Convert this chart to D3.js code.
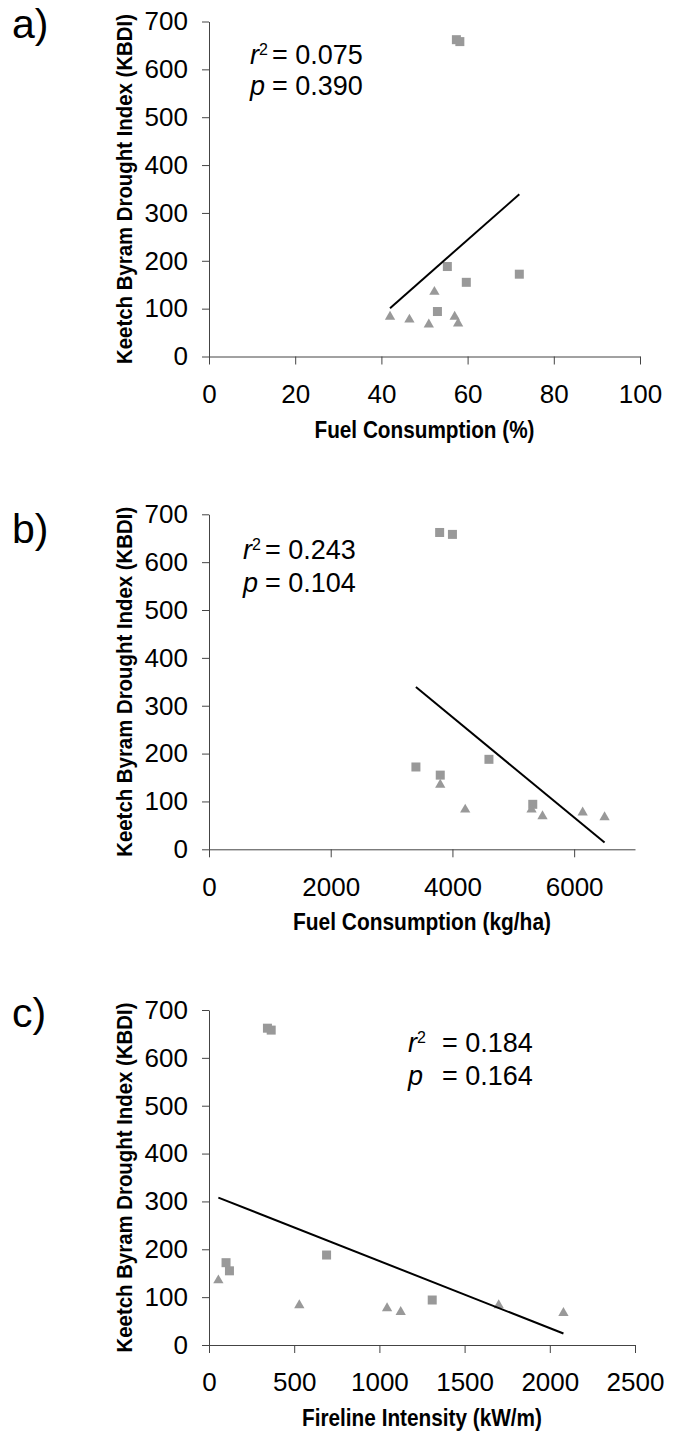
<!DOCTYPE html>
<html>
<head>
<meta charset="utf-8">
<script src="https://cdnjs.cloudflare.com/ajax/libs/d3/7.8.5/d3.min.js"></script>
<style>
    body { margin: 0; background: #fff; }
    svg { display: block; }
    .axis .tick text { font-family: "Liberation Sans", Arial, sans-serif; font-size: 26px; fill: #000; }
    .axis path, .axis line { stroke: #444; stroke-width: 1px; }
    .title { font-family: "Liberation Sans Narrow", "Arial Narrow", "Liberation Sans", Arial, sans-serif; font-weight: bold; font-size: 24px; }
    .title.ytitle { font-size: 21.5px; }
    .stat { font-family: "Liberation Sans", Arial, sans-serif; font-size: 27px; }
    .panel-label { font-family: "Liberation Sans", Arial, sans-serif; font-size: 41px; }
</style>
</head>
<body>
<div id="chart"></div>
<script>
(function () {
    "use strict";

    // KBDI is the same for every panel, x changes
    const kbdiSquares = [662, 658, 188, 155, 94, 172];
    const kbdiTriangles = [83, 77, 67, 135, 83, 69];
    const kbdiTicks = [0, 100, 200, 300, 400, 500, 600, 700];

    // a) fuel consumption (%)
    const pctSquares = [57.4, 58.2, 55.3, 59.7, 53.0, 72.0];
    const pctTriangles = [42.0, 46.5, 51.0, 52.3, 57.0, 57.8];
    const pctTrend = [[42, 101], [72, 339]];
    const pctTicks = [0, 20, 40, 60, 80, 100];

    // b) fuel consumption (kg/ha)
    const kgSquares = [3790, 4000, 4600, 3800, 5320, 3400];
    const kgTriangles = [4210, 6140, 6500, 3800, 5300, 5480];
    const kgTrend = [[3400, 339], [6500, 14]];
    const kgTicks = [0, 2000, 4000, 6000];

    // c) fireline intensity (kW/m)
    const fiSquares = [343, 365, 690, 120, 1310, 100];
    const fiTriangles = [530, 1045, 2080, 55, 1700, 1125];
    const fiTrend = [[55, 308], [2080, 24]];
    const fiTicks = [0, 500, 1000, 1500, 2000, 2500];

    const statR2 = ["0.075", "0.243", "0.184"];
    const statP = ["0.390", "0.104", "0.164"];

    let panels = [
        { label: "a)", title: "Fuel Consumption (%)", titleLen: 220, xDomain: [0, 100], xTicks: pctTicks, xs: pctSquares, xt: pctTriangles, trend: pctTrend,
          top: 21.5, width: 431, labelY: 38, statX: [250, 272], statY: [64, 95] },
        { label: "b)", title: "Fuel Consumption (kg/ha)", titleLen: 258, xDomain: [0, 7000], xTicks: kgTicks, xs: kgSquares, xt: kgTriangles, trend: kgTrend,
          top: 514.3, width: 426, labelY: 543, statX: [243, 265], statY: [559, 592] },
        { label: "c)", title: "Fireline Intensity (kW/m)", titleLen: 240, xDomain: [0, 2500], xTicks: fiTicks, xs: fiSquares, xt: fiTriangles, trend: fiTrend,
          top: 1010, width: 426, labelY: 1027, statX: [408, 442], statY: [1052, 1085] }
    ];

    let left = 209;
    let plotH = 335;
    let markerFill = "#999";

    let svg = d3.select("#chart").append("svg").attr("width", 674).attr("height", 1432);

    let drawPanel = (p, i) => {
        let g = svg.append("g");
        let x = d3.scaleLinear().domain(p.xDomain).range([left, left + p.width]);
        let y = d3.scaleLinear().domain([0, 700]).range([p.top + plotH, p.top]);

        g.append("g")
            .attr("class", "axis")
            .attr("transform", `translate(0,${y(0)})`)
            .call(d3.axisBottom(x).tickValues(p.xTicks).tickFormat(d3.format("d")).tickSize(8).tickSizeOuter(0).tickPadding(20));

        g.append("g")
            .attr("class", "axis")
            .attr("transform", `translate(${left},0)`)
            .call(d3.axisLeft(y).tickValues(kbdiTicks).tickSize(7).tickSizeOuter(0).tickPadding(14));

        // squares
        let sq = 9;
        g.selectAll("rect.sq")
            .data(d3.zip(p.xs, kbdiSquares))
            .enter()
            .append("rect")
            .attr("class", "sq")
            .attr("x", (d) => x(d[0]) - sq / 2)
            .attr("y", (d) => y(d[1]) - sq / 2)
            .attr("width", sq)
            .attr("height", sq)
            .attr("fill", markerFill);

        // triangles
        let tri = d3.symbol().type(d3.symbolTriangle).size(46);
        g.selectAll("path.tri")
            .data(d3.zip(p.xt, kbdiTriangles))
            .enter()
            .append("path")
            .attr("class", "tri")
            .attr("d", tri)
            .attr("transform", (d) => `translate(${x(d[0])},${y(d[1])})`)
            .attr("fill", markerFill);

        // regression line
        let line = d3.line().x((d) => x(d[0])).y((d) => y(d[1]));
        g.append("path")
            .datum(p.trend)
            .attr("d", line)
            .attr("fill", "none")
            .attr("stroke", "#000")
            .attr("stroke-width", 2);

        // r2 and p
        let r = g.append("text").attr("class", "stat").attr("x", p.statX[0]).attr("y", p.statY[0]);
        r.append("tspan").attr("font-style", "italic").text("r");
        r.append("tspan").attr("font-size", "16px").attr("dy", -9).text("2");
        g.append("text").attr("class", "stat").attr("x", p.statX[1]).attr("y", p.statY[0]).text("= " + statR2[i]);
        g.append("text").attr("class", "stat").attr("x", p.statX[0]).attr("y", p.statY[1]).attr("font-style", "italic").text("p");
        g.append("text").attr("class", "stat").attr("x", p.statX[1]).attr("y", p.statY[1]).text("= " + statP[i]);

        // axis titles (the original uses a narrow bold face, squeeze to its length)
        g.append("text")
            .attr("class", "title ytitle")
            .attr("text-anchor", "middle")
            .attr("transform", `translate(132,${p.top + plotH / 2}) rotate(-90)`)
            .attr("textLength", 350)
            .attr("lengthAdjust", "spacingAndGlyphs")
            .text("Keetch Byram Drought Index (KBDI)");
        g.append("text")
            .attr("class", "title")
            .attr("text-anchor", "middle")
            .attr("x", left + p.width / 2)
            .attr("y", y(0) + 81)
            .attr("textLength", p.titleLen)
            .attr("lengthAdjust", "spacingAndGlyphs")
            .text(p.title);

        g.append("text")
            .attr("class", "panel-label")
            .attr("x", 12)
            .attr("y", p.labelY)
            .text(p.label);
    };

    panels.forEach(drawPanel);
})();
</script>
</body>
</html>
